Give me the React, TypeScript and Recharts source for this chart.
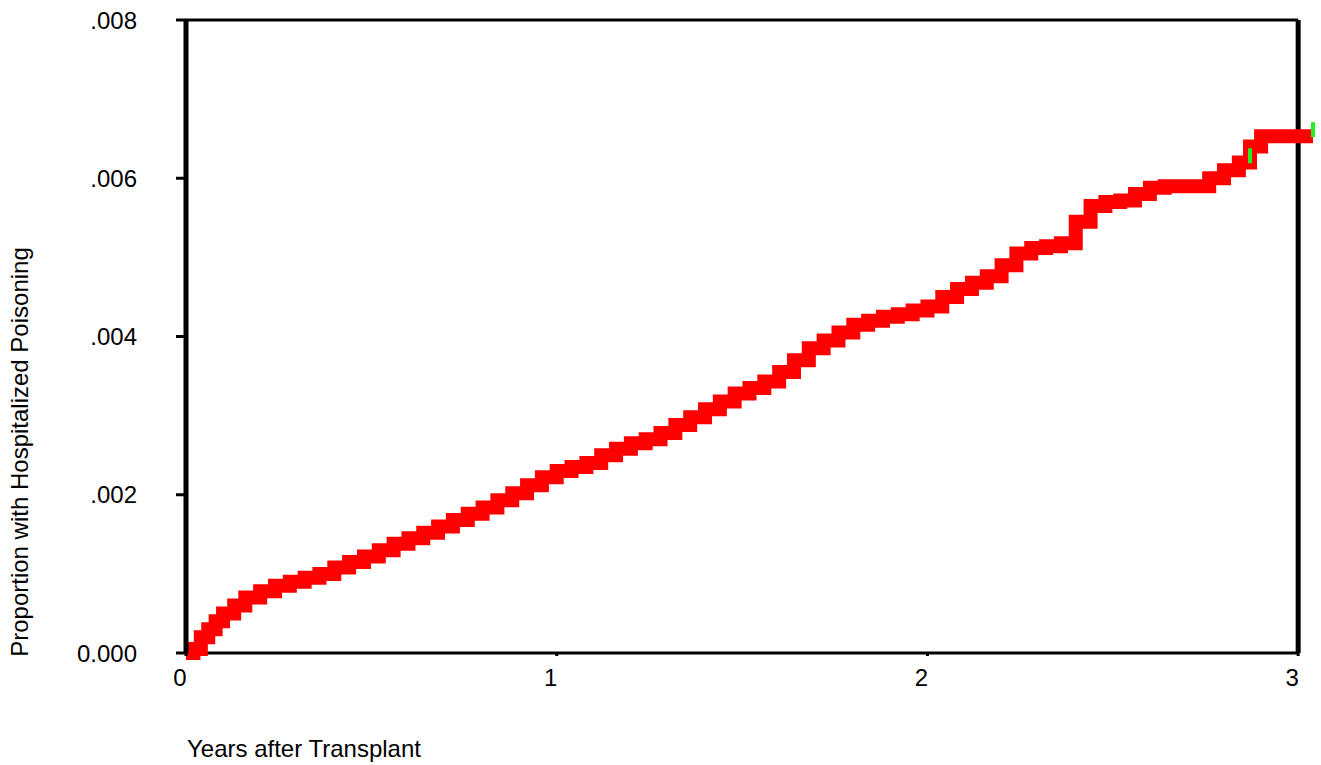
import React from "react";
import {
  ComposedChart,
  Line,
  Scatter,
  XAxis,
  YAxis,
  ReferenceLine,
  Label,
} from "recharts";

const years = [
  0, 0.02, 0.04, 0.06, 0.08, 0.1, 0.13, 0.16, 0.2, 0.24, 0.28, 0.32, 0.36, 0.4,
  0.44, 0.48, 0.52, 0.56, 0.6, 0.64, 0.68, 0.72, 0.76, 0.8, 0.84, 0.88, 0.92,
  0.96, 1.0, 1.04, 1.08, 1.12, 1.16, 1.2, 1.24, 1.28, 1.32, 1.36, 1.4, 1.44,
  1.48, 1.52, 1.56, 1.6, 1.64, 1.68, 1.72, 1.76, 1.8, 1.84, 1.88, 1.92, 1.96,
  2.0, 2.04, 2.08, 2.12, 2.16, 2.2, 2.24, 2.28, 2.32, 2.36, 2.4, 2.44, 2.48,
  2.52, 2.56, 2.6, 2.64, 2.68, 2.72, 2.76, 2.8, 2.84, 2.87, 2.9, 3.0, 3.04,
];

const proportion = [
  0, 0.00005, 0.0002, 0.0003, 0.0004, 0.0005, 0.0006, 0.0007, 0.00078,
  0.00085, 0.0009, 0.00095, 0.001, 0.00108, 0.00115, 0.00122, 0.0013, 0.00138,
  0.00145, 0.00152, 0.0016, 0.00168, 0.00176, 0.00184, 0.00193, 0.00202,
  0.00212, 0.00222, 0.0023, 0.00235, 0.0024, 0.0025, 0.00258, 0.00265, 0.0027,
  0.00278, 0.00288, 0.00298, 0.00308, 0.00318, 0.00328, 0.00335, 0.00343,
  0.00355, 0.0037, 0.00385, 0.00395, 0.00405, 0.00415, 0.0042, 0.00425,
  0.00428, 0.00433, 0.00438, 0.0045, 0.0046, 0.00468, 0.00476, 0.0049, 0.00505,
  0.00512, 0.00514, 0.00518, 0.00545, 0.00565, 0.0057, 0.00572, 0.0058,
  0.00588, 0.0059, 0.0059, 0.0059, 0.006, 0.0061, 0.0062, 0.0064, 0.00653,
  0.00653, 0.00653,
];

const censorYears = [2.87, 3.04];
const censorValues = [0.00629, 0.00662];

const yTicks = [0, 0.002, 0.004, 0.006, 0.008];
const yTickLabels = ["0.000", ".002", ".004", ".006", ".008"];
const xTicks = [0, 1, 2, 3];

const redData = years.map((x, i) => ({ x, y: proportion[i] }));
const greenData = censorYears.map((x, i) => ({ x, y: censorValues[i] }));

const FONT = "'Liberation Sans', Arial, Helvetica, sans-serif";

const GreenMark = (props: any) => {
  const { cx, cy } = props;
  if (cx == null || cy == null) return null;
  return <rect x={cx - 2} y={cy - 7} width={4} height={15} fill="#22EE22" />;
};

export default function App() {
  return (
    <div style={{ position: "absolute", left: 0, top: 0 }}>
      <ComposedChart
        width={1321}
        height={765}
        margin={{ top: 20, right: 8, left: 0, bottom: 0 }}
      >
        <XAxis
          type="number"
          dataKey="x"
          domain={[0, 3.04]}
          ticks={xTicks}
          axisLine={false}
          tickLine={{ stroke: "#000", strokeWidth: 3 }}
          tickSize={3}
          tickMargin={13}
          height={112}
          tick={{ fontSize: 24, fill: "#000", fontFamily: FONT, dx: -6 }}
        >
          <Label
            content={() => (
              <text
                x={187}
                y={757}
                fontSize={24}
                fontFamily={FONT}
                fill="#000"
                textAnchor="start"
              >
                Years after Transplant
              </text>
            )}
          />
        </XAxis>
        <YAxis
          type="number"
          dataKey="y"
          domain={[0, 0.008]}
          ticks={yTicks}
          width={186}
          axisLine={{ stroke: "#000", strokeWidth: 5 }}
          tickLine={{ stroke: "#000", strokeWidth: 3 }}
          tickSize={10}
          tickMargin={39}
          tickFormatter={(v: number) => {
            const i = yTicks.indexOf(v);
            return i >= 0 ? yTickLabels[i] : String(v);
          }}
          tick={{ fontSize: 24, fill: "#000", fontFamily: FONT }}
        >
          <Label
            content={() => (
              <text
                x={28}
                y={452}
                fontSize={24}
                fontFamily={FONT}
                fill="#000"
                textAnchor="middle"
                transform="rotate(-90 28 452)"
              >
                Proportion with Hospitalized Poisoning
              </text>
            )}
          />
        </YAxis>
        <ReferenceLine
          segment={[
            { x: 0, y: 0 },
            { x: 3, y: 0 },
          ]}
          stroke="#000"
          strokeWidth={3}
        />
        <ReferenceLine
          segment={[
            { x: 0, y: 0.008 },
            { x: 3, y: 0.008 },
          ]}
          stroke="#000"
          strokeWidth={3}
        />
        <ReferenceLine
          segment={[
            { x: 3, y: 0 },
            { x: 3, y: 0.008 },
          ]}
          stroke="#000"
          strokeWidth={5}
        />
        <Scatter
          data={greenData}
          dataKey="y"
          shape={<GreenMark />}
          isAnimationActive={false}
        />
        <Line
          data={redData}
          dataKey="y"
          type="stepAfter"
          stroke="#FF0000"
          strokeWidth={14}
          dot={false}
          activeDot={false}
          isAnimationActive={false}
        />
      </ComposedChart>
    </div>
  );
}
